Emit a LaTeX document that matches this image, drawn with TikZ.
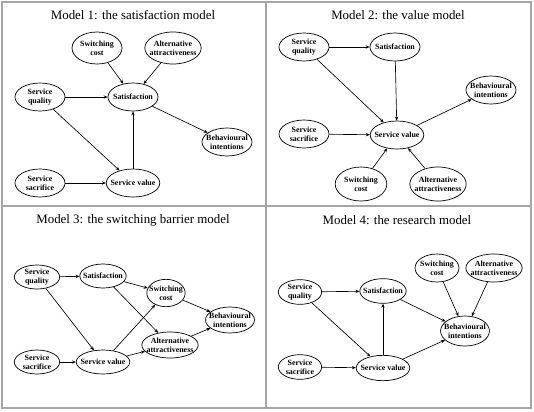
\documentclass[tikz,border=0pt]{standalone}
\usepackage{fontspec}
\setmainfont{Liberation Serif}
\usetikzlibrary{shapes.geometric,arrows.meta}

\tikzset{
  construct/.style={ellipse, draw, line width=0.6pt, inner xsep=-3pt, inner ysep=0pt,
    minimum width=1.5cm, minimum height=0.84cm, align=center,
    font=\fontsize{6.8}{7.4}\selectfont\bfseries},
  link/.style={-{Stealth[length=3.4pt,width=2.8pt]}, line width=0.55pt},
  paneltitle/.style={font=\fontsize{11}{13}\selectfont}
}

\begin{document}
\begin{tikzpicture}[x=0.03cm, y=-0.03cm]

    % Frame of the four panels
    \useasboundingbox (0,0) rectangle (534,411);
    \draw[gray!70, line width=1pt] (2,2) rectangle (531,408);
    \draw[gray!70, line width=1pt] (266,2) -- (266,408);
    \draw[gray!70, line width=1pt] (2,206) -- (531,206);

    % Model 1: the satisfaction model
    \node[paneltitle] (t1) at (133,15) {Model 1: the satisfaction model};
    \node[construct, minimum height=0.96cm] (sc1) at (97,48) {Switching\\cost};
    \node[construct, minimum width=1.6cm, minimum height=0.96cm] (aa1) at (173,48) {Alternative\\attractiveness};
    \node[construct] (sq1) at (40,97) {Service\\quality};
    \node[construct] (sat1) at (133,97) {Satisfaction};
    \node[construct] (bi1) at (227,142) {Behavioural\\intentions};
    \node[construct] (ss1) at (40,183) {Service\\sacrifice};
    \node[construct] (sv1) at (133,183) {Service value};

    \draw[link] (sc1) -- (sat1);
    \draw[link] (aa1) -- (sat1);
    \draw[link] (sq1) -- (sat1);
    \draw[link] (sq1) -- (sv1);
    \draw[link] (ss1) -- (sv1);
    \draw[link] (sv1) -- (sat1);
    \draw[link] (sat1) -- (bi1);

    % Model 2: the value model
    \node[paneltitle] (t2) at (398,15) {Model 2: the value model};
    \node[construct] (sq2) at (304,47) {Service\\quality};
    \node[construct] (sat2) at (395,47) {Satisfaction};
    \node[construct] (bi2) at (491,90) {Behavioural\\intentions};
    \node[construct] (ss2) at (304,134) {Service\\sacrifice};
    \node[construct] (sv2) at (397,135) {Service value};
    \node[construct, minimum width=1.55cm, minimum height=1.02cm] (sc2) at (361,184) {Switching\\cost};
    \node[construct, minimum width=1.68cm, minimum height=1.02cm] (aa2) at (438,184) {Alternative\\attractiveness};

    \draw[link] (sq2) -- (sat2);
    \draw[link] (sq2) -- (sv2);
    \draw[link] (sat2) -- (sv2);
    \draw[link] (ss2) -- (sv2);
    \draw[link] (sv2) -- (bi2);
    \draw[link] (sc2) -- (sv2);
    \draw[link] (aa2) -- (sv2);

    % Model 3: the switching barrier model
    \node[paneltitle] (t3) at (133,220) {Model 3: the switching barrier model};
    \node[construct, minimum width=1.36cm, minimum height=0.72cm] (sq3) at (37,277) {Service\\quality};
    \node[construct, minimum width=1.32cm, minimum height=0.72cm] (sat3) at (103,276) {Satisfaction};
    \node[construct, minimum width=1.15cm, minimum height=0.82cm] (sc3) at (166,293) {Switching\\cost};
    \node[construct, minimum width=1.34cm, minimum height=0.78cm] (bi3) at (230,320) {Behavioural\\intentions};
    \node[construct, minimum width=1.52cm, minimum height=0.78cm] (aa3) at (170,345) {Alternative\\attractiveness};
    \node[construct, minimum width=1.36cm, minimum height=0.72cm] (ss3) at (37,362) {Service\\sacrifice};
    \node[construct, minimum width=1.32cm, minimum height=0.72cm] (sv3) at (103,362) {Service value};

    \draw[link] (sq3) -- (sat3);
    \draw[link] (sq3) -- (sv3);
    \draw[link] (ss3) -- (sv3);
    \draw[link] (sat3) -- (sc3);
    \draw[link] (sat3) -- (aa3);
    \draw[link] (sv3) -- (sc3);
    \draw[link] (sv3) -- (aa3);
    \draw[link] (sc3) -- (bi3);
    \draw[link] (aa3) -- (bi3);

    % Model 4: the research model
    \node[paneltitle] (t4) at (397,220) {Model 4: the research model};
    \node[construct, minimum width=1.32cm, minimum height=0.84cm] (sc4) at (437,268) {Switching\\cost};
    \node[construct, minimum width=1.44cm, minimum height=0.84cm] (aa4) at (494,268) {Alternative\\attractiveness};
    \node[construct, minimum width=1.3cm, minimum height=0.74cm] (sq4) at (300,292) {Service\\quality};
    \node[construct, minimum width=1.36cm, minimum height=0.74cm] (sat4) at (383,291) {Satisfaction};
    \node[construct, minimum width=1.44cm, minimum height=0.9cm] (bi4) at (465,331) {Behavioural\\intentions};
    \node[construct, minimum width=1.3cm, minimum height=0.74cm] (ss4) at (300,367) {Service\\sacrifice};
    \node[construct, minimum width=1.36cm, minimum height=0.76cm] (sv4) at (383,368) {Service value};

    \draw[link] (sq4) -- (sat4);
    \draw[link] (sq4) -- (sv4);
    \draw[link] (ss4) -- (sv4);
    \draw[link] (sv4) -- (sat4);
    \draw[link] (sat4) -- (bi4);
    \draw[link] (sv4) -- (bi4);
    \draw[link] (sc4) -- (bi4);
    \draw[link] (aa4) -- (bi4);

\end{tikzpicture}
\end{document}
